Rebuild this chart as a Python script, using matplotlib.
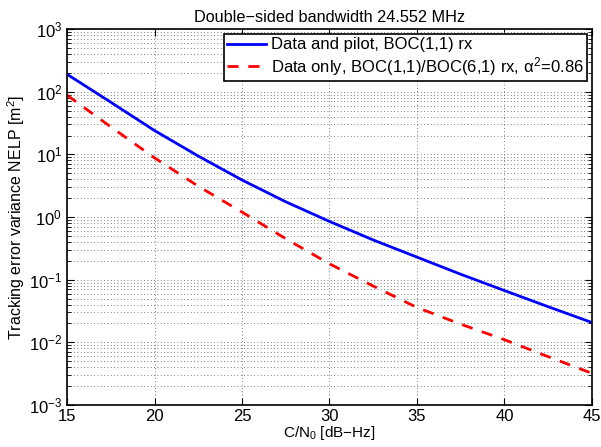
import numpy as np
import matplotlib
matplotlib.use('Agg')
import matplotlib.pyplot as plt
from matplotlib.ticker import LogLocator, NullFormatter

plt.rcParams['font.family'] = ['Liberation Sans', 'DejaVu Sans']
plt.rcParams['mathtext.fontset'] = 'custom'
plt.rcParams['mathtext.rm'] = 'Liberation Sans'
plt.rcParams['mathtext.it'] = 'Liberation Sans'

# C/N0 [dB-Hz]
cn0 = [15, 17.5, 20, 22.5, 25, 27.5, 30, 32.5, 35, 37.5, 40, 42.5, 45]
# data and pilot, BOC(1,1) rx
nelp_pilot = [190, 68, 24, 9.4, 3.9, 1.75, 0.85, 0.43, 0.229, 0.122, 0.067, 0.037, 0.0207]
# data only, BOC(1,1)/BOC(6,1) rx
nelp_data = [88, 27.5, 8.8, 3.1, 1.2, 0.45, 0.179, 0.079, 0.036, 0.0195, 0.011, 0.0059, 0.0032]

fig = plt.figure(figsize=(6.01, 4.47), dpi=100)
ax = fig.add_axes([0.1115, 0.094, 0.8735, 0.841])

ax.semilogy(cn0, nelp_pilot, '-', color='#0000ff', lw=2, label='Data and pilot, BOC(1,1) rx')
ax.semilogy(cn0, nelp_data, '--', color='#ff0000', lw=2, dashes=(4, 3.5),
            label=r'Data only, BOC(1,1)/BOC(6,1) rx, $\alpha^2$=0.86')

ax.set_xlim(15, 45)
ax.set_ylim(1e-3, 1e3)
ax.set_xticks([15, 20, 25, 30, 35, 40, 45])
ax.yaxis.set_major_locator(LogLocator(base=10, numticks=10))
ax.yaxis.set_minor_locator(LogLocator(base=10, subs=np.arange(2, 10), numticks=100))
ax.yaxis.set_minor_formatter(NullFormatter())

ax.grid(True, which='major', linestyle=(0, (1, 3)), color='#555555', lw=0.6)
ax.grid(True, which='minor', axis='y', linestyle=(0, (1, 3)), color='#555555', lw=0.6)

ax.tick_params(which='both', direction='in', top=True, right=True, labelsize=12)
ax.tick_params(which='major', length=5)
ax.tick_params(which='minor', length=3)
ax.tick_params(axis='x', pad=3)
for s in ax.spines.values():
    s.set_linewidth(1.2)

ax.set_xlabel(r'C/N$_0$ [dB$-$Hz]', fontsize=11, labelpad=0)
ax.set_ylabel(r'Tracking error variance NELP [m$^2$]', fontsize=11.5, labelpad=1)
ax.set_title('Double\u2212sided bandwidth 24.552 MHz', fontsize=11.7, pad=5)

leg = ax.legend(loc='upper right', fontsize=12, fancybox=False, framealpha=1,
                edgecolor='black', borderaxespad=0.3, handlelength=2.3,
                borderpad=0.2, labelspacing=0.15, handletextpad=0.3)
leg.get_frame().set_linewidth(1.2)

fig.savefig('out.png', dpi=100)
